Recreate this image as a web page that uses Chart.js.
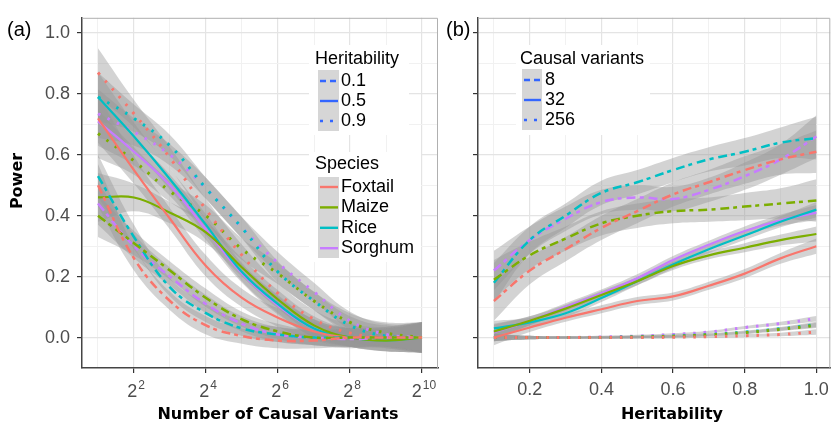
<!DOCTYPE html>
<html>
<head>
<meta charset="utf-8">
<script src="https://cdn.jsdelivr.net/npm/chart.js@4.4.0/dist/chart.umd.min.js"></script>
<style>
  body { margin: 0; background: #fff; width: 835px; height: 425px; overflow: hidden; position: relative; }
  #chartA { position: absolute; left: 0; top: 0; }
  #chartB { position: absolute; left: 440px; top: 0; }
</style>
</head>
<body>
<canvas id="chartA" width="440" height="425"></canvas>
<canvas id="chartB" width="395" height="425"></canvas>
<script>
const species = ['Foxtail', 'Maize', 'Rice', 'Sorghum'];
const speciesColors = ['#F8766D', '#7CAE00', '#00BFC4', '#C77CFF'];

// panel (a): x = log2(number of causal variants)
const causalLog2 = [1, 2, 3, 4, 5, 6, 7, 8, 9, 10];
const causalTickExp = [2, 4, 6, 8, 10];
// rows: Foxtail, Maize, Rice, Sorghum
const powerA_h01 = [
  [0.50, 0.26, 0.12, 0.04, 0.005, -0.01, -0.01, 0.0, 0.0, 0.0],
  [0.40, 0.31, 0.22, 0.13, 0.06, 0.02, 0.0, 0.0, 0.0, 0.0],
  [0.53, 0.33, 0.165, 0.08, 0.03, 0.01, 0.0, 0.0, 0.0, 0.0],
  [0.44, 0.30, 0.20, 0.11, 0.045, 0.01, 0.0, -0.005, 0.0, 0.0]
];
const powerA_h05 = [
  [0.72, 0.55, 0.39, 0.235, 0.13, 0.065, 0.02, 0.0, 0.0, 0.0],
  [0.46, 0.46, 0.41, 0.345, 0.23, 0.125, 0.04, 0.0, -0.01, 0.0],
  [0.79, 0.66, 0.52, 0.37, 0.215, 0.11, 0.03, 0.0, -0.01, 0.0],
  [0.71, 0.61, 0.50, 0.355, 0.21, 0.105, 0.03, 0.0, -0.01, 0.0]
];
const powerA_h09 = [
  [0.87, 0.735, 0.59, 0.42, 0.27, 0.145, 0.06, 0.015, 0.0, 0.0],
  [0.67, 0.58, 0.48, 0.40, 0.29, 0.21, 0.12, 0.05, 0.015, 0.0],
  [0.79, 0.72, 0.63, 0.49, 0.36, 0.215, 0.12, 0.04, 0.005, 0.0],
  [0.735, 0.675, 0.60, 0.49, 0.36, 0.245, 0.15, 0.055, 0.01, 0.0]
];
// half widths of the confidence ribbons
const bandA_h01 = [0.07, 0.04, 0.03, 0.03, 0.025, 0.025, 0.025, 0.03, 0.03, 0.045];
const bandA_h05 = [0.08, 0.045, 0.035, 0.035, 0.03, 0.03, 0.03, 0.03, 0.035, 0.05];
const bandA_h09 = [0.08, 0.045, 0.035, 0.035, 0.035, 0.035, 0.03, 0.03, 0.035, 0.05];

// panel (b): x = heritability
const heritability = [0.1, 0.2, 0.3, 0.4, 0.5, 0.6, 0.7, 0.8, 0.9, 1.0];
const powerB_c8 = [
  [0.12, 0.22, 0.29, 0.36, 0.415, 0.47, 0.51, 0.55, 0.585, 0.61],
  [0.19, 0.27, 0.325, 0.375, 0.40, 0.415, 0.42, 0.43, 0.44, 0.45],
  [0.18, 0.32, 0.40, 0.475, 0.51, 0.55, 0.585, 0.61, 0.64, 0.655],
  [0.22, 0.32, 0.39, 0.445, 0.46, 0.455, 0.485, 0.53, 0.585, 0.66]
];
const powerB_c32 = [
  [0.0, 0.033, 0.065, 0.093, 0.12, 0.135, 0.17, 0.21, 0.26, 0.30],
  [0.02, 0.055, 0.095, 0.14, 0.185, 0.235, 0.27, 0.295, 0.32, 0.34],
  [0.03, 0.05, 0.08, 0.13, 0.185, 0.24, 0.29, 0.335, 0.38, 0.42],
  [0.017, 0.055, 0.10, 0.145, 0.195, 0.255, 0.305, 0.35, 0.385, 0.41]
];
const powerB_c256 = [
  [0, 0, 0, 0, 0, 0.001, 0.003, 0.006, 0.01, 0.018],
  [0, 0, 0, 0, 0.002, 0.004, 0.009, 0.016, 0.027, 0.04],
  [0, 0, 0, 0, 0.002, 0.005, 0.01, 0.018, 0.029, 0.043],
  [0, 0, 0, 0.002, 0.005, 0.01, 0.018, 0.033, 0.046, 0.062]
];
const bandB_c8 = [0.065, 0.045, 0.04, 0.04, 0.04, 0.04, 0.04, 0.045, 0.05, 0.07];
const bandB_c32 = [0.025, 0.015, 0.013, 0.013, 0.013, 0.013, 0.013, 0.015, 0.018, 0.025];
const bandB_c256 = [0.012, 0.006, 0.004, 0.004, 0.004, 0.004, 0.004, 0.005, 0.006, 0.009];

const yGrid = [0, 0.1, 0.2, 0.3, 0.4, 0.5, 0.6, 0.7, 0.8, 0.9, 1.0];
const heritLegend = ['0.1', '0.5', '0.9'];
const causalLegend = ['8', '32', '256'];

const SANS = '"Liberation Sans", Arial, sans-serif';
const BOLD = 'bold 16px "DejaVu Sans", sans-serif';
const BAND = 'rgba(150,150,150,0.42)';
const DASH = [9, 4, 4, 5];
const DOT = [2.5, 8];

const isMajor = v => Math.round(v * 10) % 2 === 0;

function buildSets(xs, groups, bands, dash, width) {
  const bandSets = [], lineSets = [];
  groups.forEach((ys, i) => {
    bandSets.push({
      data: xs.map((x, j) => ({ x, y: ys[j] - bands[j] })),
      borderWidth: 0, borderColor: 'transparent', pointRadius: 0, fill: false,
      tension: 0.4, order: 2
    });
    bandSets.push({
      data: xs.map((x, j) => ({ x, y: ys[j] + bands[j] })),
      borderWidth: 0, borderColor: 'transparent', pointRadius: 0, fill: '-1',
      backgroundColor: BAND, tension: 0.4, order: 2
    });
    lineSets.push({
      label: species[i],
      data: xs.map((x, j) => ({ x, y: ys[j] })),
      borderColor: speciesColors[i], borderWidth: width, borderDash: dash,
      pointRadius: 0, fill: false, tension: 0.4, order: 1
    });
  });
  return { bandSets, lineSets };
}

function allSets(xs, parts) {
  const built = parts.map(p => buildSets(xs, p[0], p[1], p[2], p[3]));
  return [].concat(...built.map(b => b.bandSets), ...built.map(b => b.lineSets));
}

function gridOpts(majorFn) {
  return {
    color: c => (c.tick && majorFn(c.tick.value)) ? '#e4e4e4' : '#f1f1f1',
    lineWidth: c => (c.tick && majorFn(c.tick.value)) ? 1.2 : 1,
    tickColor: c => (c.tick && majorFn(c.tick.value)) ? '#333' : 'rgba(0,0,0,0)',
    tickLength: 5
  };
}

function yScale(width, labels) {
  return {
    type: 'linear', min: -0.1, max: 1.05,
    afterBuildTicks: s => { s.ticks = yGrid.map(v => ({ value: v })); },
    afterFit: s => { s.width = width; },
    ticks: {
      autoSkip: false, padding: 7, color: '#4d4d4d', font: { family: SANS, size: 18 },
      callback: v => (labels && isMajor(v)) ? v.toFixed(1) : ''
    },
    grid: gridOpts(isMajor),
    border: { color: '#444', width: 1.5 }
  };
}

function text(ctx, s, x, y, font, align, color) {
  ctx.save();
  ctx.font = font;
  ctx.fillStyle = color || '#000';
  ctx.textAlign = align || 'left';
  ctx.textBaseline = 'middle';
  ctx.fillText(s, x, y);
  ctx.restore();
}

function keyLine(ctx, x1, x2, y, color, dash) {
  ctx.save();
  ctx.strokeStyle = color;
  ctx.lineWidth = 2.4;
  ctx.setLineDash(dash);
  ctx.beginPath();
  ctx.moveTo(x1, y);
  ctx.lineTo(x2, y);
  ctx.stroke();
  ctx.restore();
}

function panelBorder(chart) {
  const a = chart.chartArea, ctx = chart.ctx;
  ctx.save();
  ctx.strokeStyle = '#b0b0b0';
  ctx.lineWidth = 1;
  ctx.beginPath();
  ctx.moveTo(a.left, a.top + 0.5);
  ctx.lineTo(a.right - 0.5, a.top + 0.5);
  ctx.lineTo(a.right - 0.5, a.bottom);
  ctx.stroke();
  ctx.restore();
}

const decorA = {
  id: 'decorA',
  beforeDatasetsDraw(chart) {
    const ctx = chart.ctx;
    ctx.save();
    ctx.fillStyle = '#fff';
    ctx.fillRect(309, 45, 100, 90);
    ctx.fillRect(309, 152, 112, 110);
    ctx.restore();
  },
  afterDraw(chart) {
    const ctx = chart.ctx;
    panelBorder(chart);
    // x tick labels 2^n
    const xs = chart.scales.x;
    causalTickExp.forEach(e => {
      const px = xs.getPixelForValue(e);
      ctx.save();
      ctx.fillStyle = '#4d4d4d';
      ctx.textBaseline = 'alphabetic';
      ctx.font = '18px ' + SANS;
      const w1 = ctx.measureText('2').width;
      ctx.font = '12px ' + SANS;
      const w2 = ctx.measureText(String(e)).width;
      const x0 = px + 2 - (w1 + w2 + 1) / 2;
      ctx.font = '18px ' + SANS;
      ctx.fillText('2', x0, 397);
      ctx.font = '12px ' + SANS;
      ctx.fillText(String(e), x0 + w1 + 1, 389);
      ctx.restore();
    });
    text(ctx, '(a)', 7, 30, '20px ' + SANS);
    text(ctx, 'Number of Causal Variants', 278, 415, BOLD, 'center');
    ctx.save();
    ctx.translate(18, 181);
    ctx.rotate(-Math.PI / 2);
    text(ctx, 'Power', 0, 0, BOLD, 'center');
    ctx.restore();
    // legend: heritability
    text(ctx, 'Heritability', 315, 59, '18px ' + SANS);
    ctx.fillStyle = '#d6d6d6';
    ctx.fillRect(318, 70, 21, 61);
    const dashes = [[6, 4], [], [3, 7]];
    heritLegend.forEach((lab, i) => {
      const y = 81 + i * 20;
      keyLine(ctx, 320, 338, y, '#3366FF', dashes[i]);
      text(ctx, lab, 341, y, '18px ' + SANS);
    });
    // legend: species
    text(ctx, 'Species', 315, 164, '18px ' + SANS);
    ctx.fillStyle = '#d6d6d6';
    ctx.fillRect(318, 177, 21, 81);
    species.forEach((lab, i) => {
      const y = 187 + i * 20.4;
      keyLine(ctx, 320, 338, y, speciesColors[i], []);
      text(ctx, lab, 341, y, '18px ' + SANS);
    });
  }
};

const decorB = {
  id: 'decorB',
  beforeDatasetsDraw(chart) {
    const ctx = chart.ctx;
    ctx.save();
    ctx.fillStyle = '#fff';
    ctx.fillRect(76, 45, 134, 90);
    ctx.restore();
  },
  afterDraw(chart) {
    const ctx = chart.ctx;
    panelBorder(chart);
    text(ctx, '(b)', 6, 30, '20px ' + SANS);
    text(ctx, 'Heritability', 232, 415, BOLD, 'center');
    text(ctx, 'Causal variants', 80, 59, '18px ' + SANS);
    ctx.fillStyle = '#d6d6d6';
    ctx.fillRect(82, 69, 20, 61);
    const dashes = [[6, 4], [], [3, 7]];
    causalLegend.forEach((lab, i) => {
      const y = 80 + i * 20;
      keyLine(ctx, 84, 101, y, '#3366FF', dashes[i]);
      text(ctx, lab, 105, y, '18px ' + SANS);
    });
  }
};

const common = {
  responsive: false,
  devicePixelRatio: 1,
  animation: false,
  events: [],
  plugins: { legend: { display: false }, tooltip: { enabled: false } }
};

new Chart(document.getElementById('chartA'), {
  type: 'line',
  data: {
    datasets: allSets(causalLog2, [
      [powerA_h01, bandA_h01, DASH, 2.5],
      [powerA_h05, bandA_h05, [], 2.2],
      [powerA_h09, bandA_h09, DOT, 3]
    ])
  },
  options: {
    ...common,
    layout: { padding: { top: 12, right: 2, left: 0, bottom: 0 } },
    scales: {
      x: {
        type: 'linear', min: 0.556, max: 10.444,
        afterBuildTicks: s => { s.ticks = causalLog2.map(v => ({ value: v })); },
        afterFit: s => { s.height = 57; },
        ticks: { autoSkip: false, maxRotation: 0, callback: () => '' },
        grid: gridOpts(v => v % 2 === 0),
        border: { color: '#444', width: 1.5 }
      },
      y: yScale(82, true)
    }
  },
  plugins: [decorA]
});

new Chart(document.getElementById('chartB'), {
  type: 'line',
  data: {
    datasets: allSets(heritability, [
      [powerB_c8, bandB_c8, DASH, 2.5],
      [powerB_c32, bandB_c32, [], 2.2],
      [powerB_c256, bandB_c256, DOT, 3]
    ])
  },
  options: {
    ...common,
    layout: { padding: { top: 12, right: 3, left: 0, bottom: 0 } },
    scales: {
      x: {
        type: 'linear', min: 0.0556, max: 1.0389,
        afterBuildTicks: s => { s.ticks = heritability.map(v => ({ value: v })); },
        afterFit: s => { s.height = 57; },
        ticks: {
          autoSkip: false, maxRotation: 0, padding: 6, color: '#4d4d4d',
          font: { family: SANS, size: 18 },
          callback: v => isMajor(v) ? v.toFixed(1) : ''
        },
        grid: gridOpts(isMajor),
        border: { color: '#444', width: 1.5 }
      },
      y: yScale(38, false)
    }
  },
  plugins: [decorB]
});
</script>
</body>
</html>
